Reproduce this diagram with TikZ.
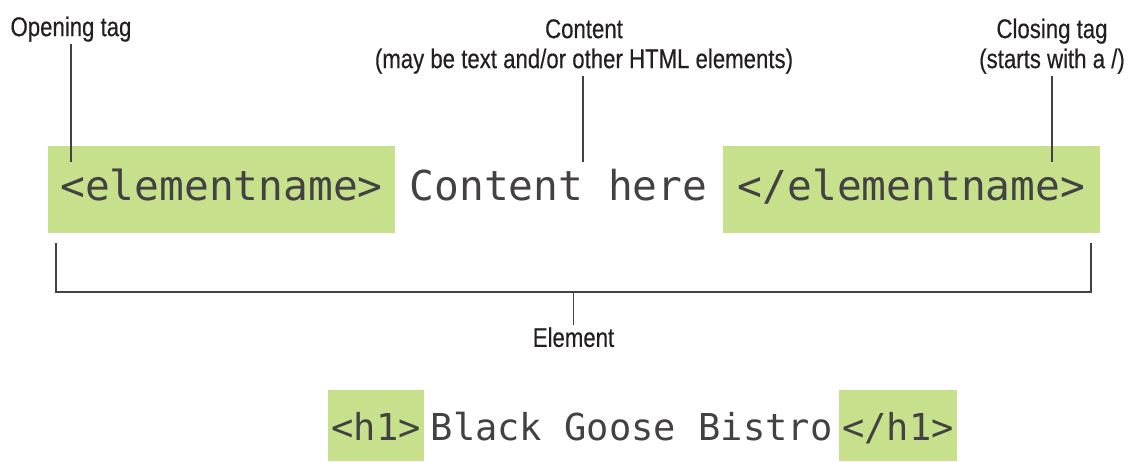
\documentclass[tikz,border=0pt]{standalone}
\usepackage{fontspec}
\newfontfamily\notefont[FakeStretch=0.82,FakeBold=0.4]{Liberation Sans}
\newfontfamily\codefont{DejaVu Sans Mono}
\usetikzlibrary{positioning}
\definecolor{tagfill}{RGB}{198,224,140}
\definecolor{ink}{RGB}{35,31,32}

\begin{document}
\begin{tikzpicture}[x=0.75pt,y=-0.75pt,
  note/.style={font=\notefont\fontsize{20.3}{22.5}\selectfont,text=ink,align=center,inner sep=1.5pt},
  code/.style={font=\codefont\fontsize{30.9}{34}\selectfont,text=ink!85,inner xsep=0pt,inner ysep=0pt,
    text height=40.5pt,text depth=24.75pt},
  tagbox/.style={code,fill=tagfill},
  smallcode/.style={font=\codefont\fontsize{27.8}{31}\selectfont,text=ink!85,inner xsep=2.5pt,inner ysep=0pt,
    text height=37.5pt,text depth=15.75pt},
  smalltag/.style={smallcode,fill=tagfill},
  lead/.style={draw=ink!85,line width=1.1pt}]
  \useasboundingbox (0,0) rectangle (1135,461);
  % top row: tags and content
  \node[tagbox,minimum width=260.25pt,anchor=base] (open) at (221.5,200) {<elementname>};
  \node[code,anchor=base] (content) at (558.5,200) {Content here};
  \node[tagbox,minimum width=282.75pt,anchor=base] (close) at (911.5,200) {</elementname>};
  % callouts
  \node[note,anchor=south] (optag) at (71,44) {Opening tag};
  \node[note,anchor=south] (cont) at (584,76) {Content\\(may be text and/or other HTML elements)};
  \node[note,anchor=south] (cltag) at (1052,76) {Closing tag\\(starts with a /)};
  \coordinate (opend) at (71,162);
  \coordinate (contend) at (583,162);
  \coordinate (clend) at (1052,162);
  \draw[lead] (optag.south) -- (opend);
  \draw[lead] (cont.south -| contend) -- (contend);
  \draw[lead] (cltag.south) -- (clend);
  % bracket for the whole element
  \coordinate (brl) at (56,243);
  \coordinate (brr) at (1091,243);
  \coordinate (brmid) at (573.5,292);
  \node[note,anchor=north] (elem) at (573.5,325) {Element};
  \draw[lead] (brl) |- (brmid) -| (brr);
  \draw[lead] (brmid) -- (elem.north);
  % example line
  \node[smalltag,anchor=base west] (h1open) at (328,440) {<h1>};
  \node[smallcode,inner xsep=4.5pt,right=0pt of h1open] (title) {Black Goose Bistro};
  \node[smalltag,right=0pt of title] (h1close) {</h1>};
\end{tikzpicture}
\end{document}
